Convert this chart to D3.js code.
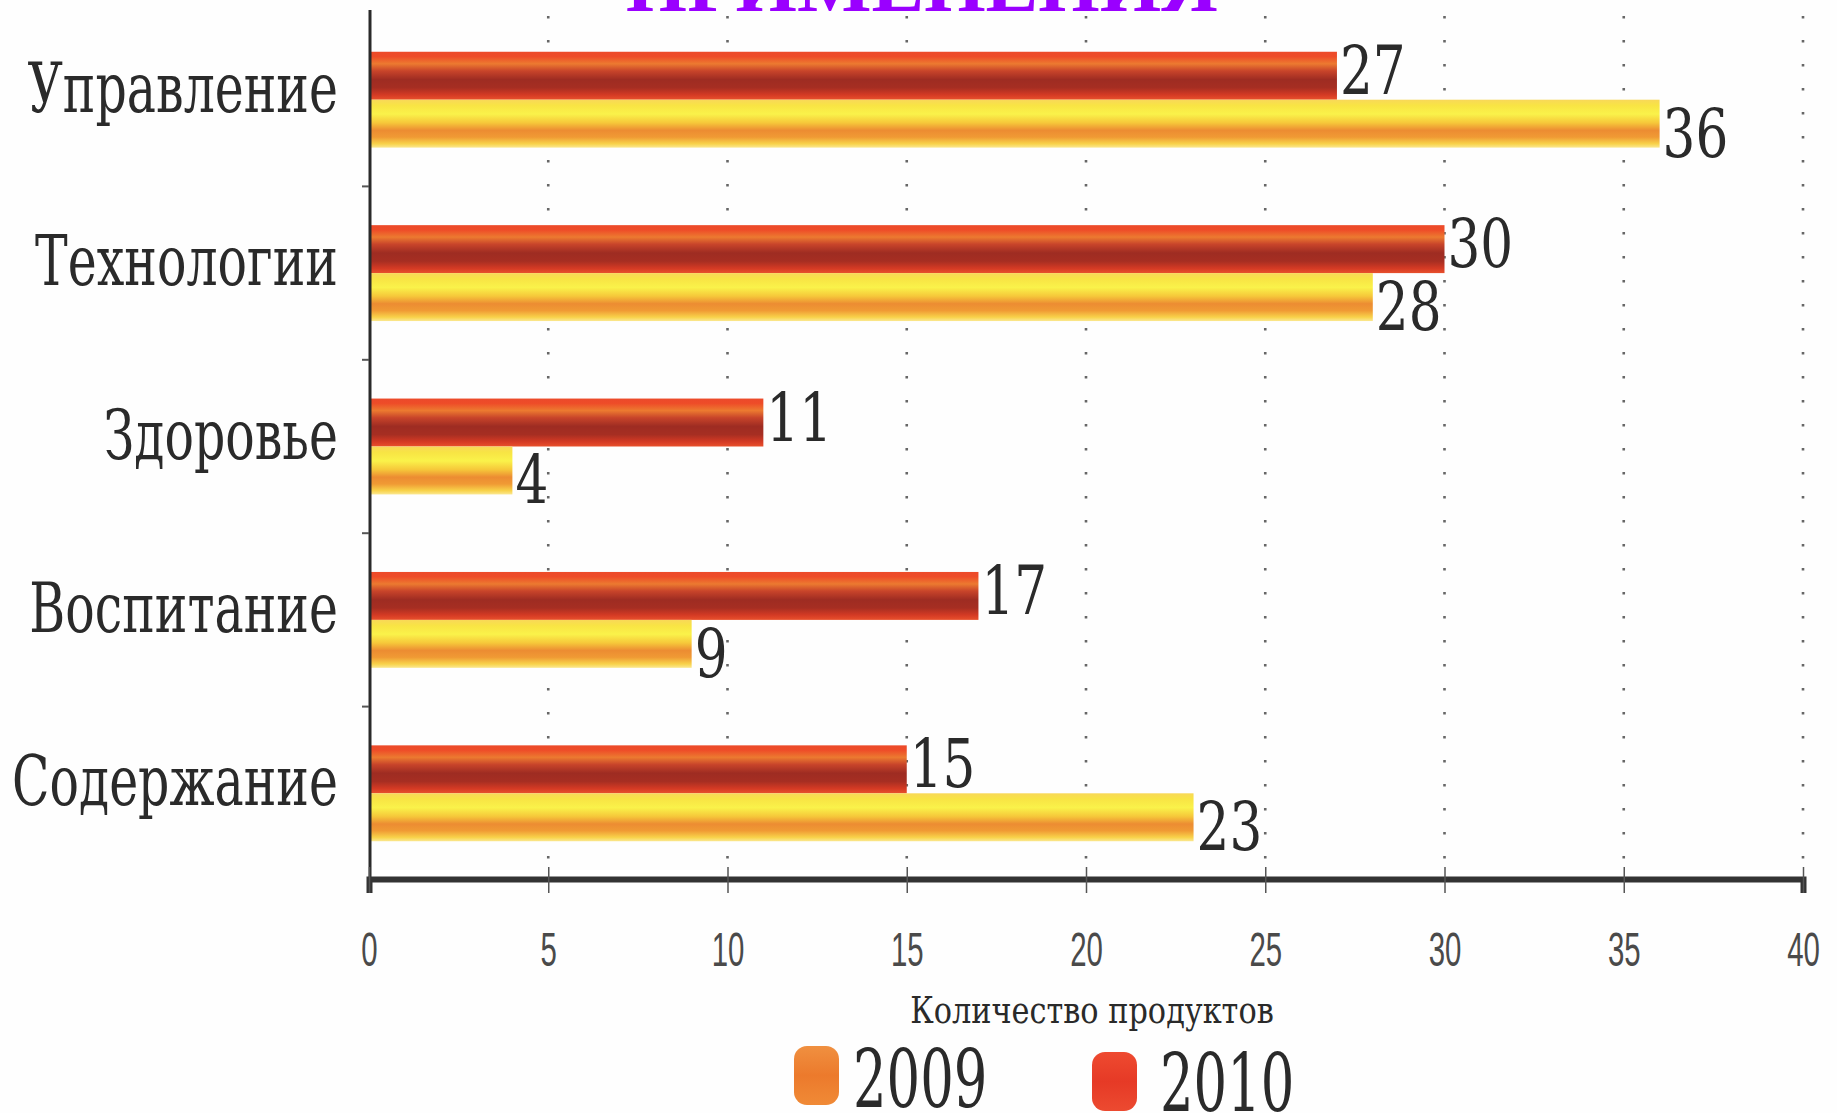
<!DOCTYPE html>
<html>
<head>
<meta charset="utf-8">
<script src="https://cdn.jsdelivr.net/npm/d3@7"></script>
<style>
  html, body { margin: 0; padding: 0; background: #fefefe; overflow: hidden; }
  svg { display: block; }
</style>
</head>
<body>
<svg id="chart" width="1837" height="1113"></svg>
<script>
// ---- data ----
const categories = ["Управление", "Технологии", "Здоровье", "Воспитание", "Содержание"];
const series = ["2010", "2009"];
const values2010 = [27, 30, 11, 17, 15];
const values2009 = [36, 28, 4, 9, 23];
const xTicks = [0, 5, 10, 15, 20, 25, 30, 35, 40];
const xTitle = "Количество продуктов";
const legendLabels = ["2009", "2010"];
const titleText = "ПРИМЕНЕНИЯ";

// ---- setup ----
const svg = d3.select("#chart");
const mLeft = 369, mRight = 1803, mTop = 13, mBottom = 880;

const x = d3.scaleLinear().domain([0, 40]).range([mLeft, mRight]);
const y = d3.scaleBand().domain(categories).range([mTop, mBottom]).paddingInner(0.447).paddingOuter(0.2235);
const yInner = d3.scaleBand().domain(series).range([0, y.bandwidth()]);

const defs = svg.append("defs");
function grad(id, stops) {
  const g = defs.append("linearGradient").attr("id", id).attr("x1", 0).attr("x2", 0).attr("y1", 0).attr("y2", 1);
  stops.forEach(([o, c]) => g.append("stop").attr("offset", o).attr("stop-color", c));
}
grad("g2010", [["0%", "#ec4a2a"], ["10%", "#ee4c28"], ["25%", "#ec7a30"], ["40%", "#c8442a"], ["58%", "#9e2c22"], ["75%", "#a62e22"], ["90%", "#d43a24"], ["100%", "#e8502c"]]);
grad("g2009", [["0%", "#f8d858"], ["12%", "#f8e444"], ["30%", "#faf24a"], ["48%", "#f6c83a"], ["64%", "#ec8c32"], ["78%", "#f09a34"], ["92%", "#f8d24a"], ["100%", "#fbe890"]]);
grad("leg2009", [["0%", "#f09040"], ["50%", "#ec7a2c"], ["100%", "#f08a36"]]);
grad("leg2010", [["0%", "#ee4a30"], ["50%", "#e63a26"], ["100%", "#ec4a30"]]);

// ---- title (cut off at top) ----
svg.append("text")
  .attr("x", 922).attr("y", 11)
  .attr("text-anchor", "middle")
  .attr("font-family", "Liberation Serif, serif")
  .attr("font-weight", "bold")
  .attr("font-size", 79)
  .attr("fill", "#9a00ff")
  .text(titleText);

// ---- gridlines ----
svg.append("g").selectAll("line")
  .data(xTicks.filter(d => d > 0))
  .join("line")
  .attr("x1", d => x(d)).attr("x2", d => x(d))
  .attr("y1", 16).attr("y2", mBottom - 4)
  .attr("stroke", "#666")
  .attr("stroke-width", 2.6)
  .attr("stroke-dasharray", "2.6,21.4");

// ---- bars ----
const rows = categories.map((c, i) => ({ cat: c, v: { "2010": values2010[i], "2009": values2009[i] } }));
const barG = svg.append("g");
rows.forEach(r => {
  series.forEach(s => {
    barG.append("rect")
      .attr("x", x(0))
      .attr("y", y(r.cat) + yInner(s))
      .attr("width", x(r.v[s]) - x(0))
      .attr("height", yInner.bandwidth())
      .attr("fill", `url(#g${s})`);
  });
});

// ---- text helper ----
function condensedText(parent, tx, ty, txt, size, sx, anchor) {
  const g = parent.append("g").attr("transform", `translate(${tx},${ty}) scale(${sx},1)`);
  g.append("text")
    .attr("text-anchor", anchor)
    .attr("font-family", "DejaVu Serif, serif")
    .attr("font-size", size)
    .attr("fill", "#2a2a2a")
    .text(txt);
  return g;
}

// ---- value labels ----
const labG = svg.append("g");
rows.forEach(r => {
  series.forEach(s => {
    const by = y(r.cat) + yInner(s) + yInner.bandwidth();
    const off = s === "2010" ? -6 : 9;
    condensedText(labG, x(r.v[s]) + 3, by + off, String(r.v[s]), 68, 0.76, "start");
  });
});

// ---- category labels (condensed to fit the left margin) ----
const probe = svg.append("text").attr("font-family", "DejaVu Serif, serif").attr("font-size", 70).text(categories[4]);
const natural = probe.node().getComputedTextLength();
probe.remove();
const catScale = Math.min(0.9, 326 / natural);
categories.forEach(c => {
  condensedText(svg, 338, y(c) + y.bandwidth() / 2 + 12, c, 70, catScale, "end");
});

// ---- y axis ----
svg.append("line")
  .attr("x1", mLeft + 1).attr("x2", mLeft + 1)
  .attr("y1", 10).attr("y2", mBottom)
  .attr("stroke", "#2a2a2a").attr("stroke-width", 3);
svg.append("g").selectAll("line")
  .data(categories.slice(1))
  .join("line")
  .attr("x1", mLeft - 7).attr("x2", mLeft)
  .attr("y1", d => y(d) - y.step() * y.paddingInner() / 2)
  .attr("y2", d => y(d) - y.step() * y.paddingInner() / 2)
  .attr("stroke", "#555").attr("stroke-width", 2);

// ---- x axis ----
const xAxis = svg.append("g")
  .attr("transform", `translate(0,${mBottom - 1})`)
  .call(d3.axisBottom(x).tickValues(xTicks).tickSize(14).tickPadding(38).tickFormat(d3.format("d")));
xAxis.select(".domain").attr("stroke", "#333").attr("stroke-width", 6);
xAxis.selectAll(".tick line").attr("y1", -12).attr("y2", 14).attr("stroke", "#555").attr("stroke-width", 1.5);
xAxis.selectAll(".tick text")
  .attr("font-family", "Liberation Sans, sans-serif")
  .attr("font-size", 49)
  .attr("fill", "#4a4a4a")
  .attr("transform", "scale(0.6,1)");

// ---- x title ----
condensedText(svg, 1092, 1023, xTitle, 37, 0.82, "middle");

// ---- legend ----
const legend = [
  { label: legendLabels[0], fill: "url(#leg2009)", rx: 794, ry: 1046, tx: 853, ty: 1107 },
  { label: legendLabels[1], fill: "url(#leg2010)", rx: 1092, ry: 1052, tx: 1160, ty: 1111 }
];
legend.forEach(l => {
  svg.append("rect")
    .attr("x", l.rx).attr("y", l.ry)
    .attr("width", 45).attr("height", 59)
    .attr("rx", 13).attr("ry", 13)
    .attr("fill", l.fill);
  condensedText(svg, l.tx, l.ty, l.label, 80, 0.66, "start");
});
</script>
</body>
</html>
